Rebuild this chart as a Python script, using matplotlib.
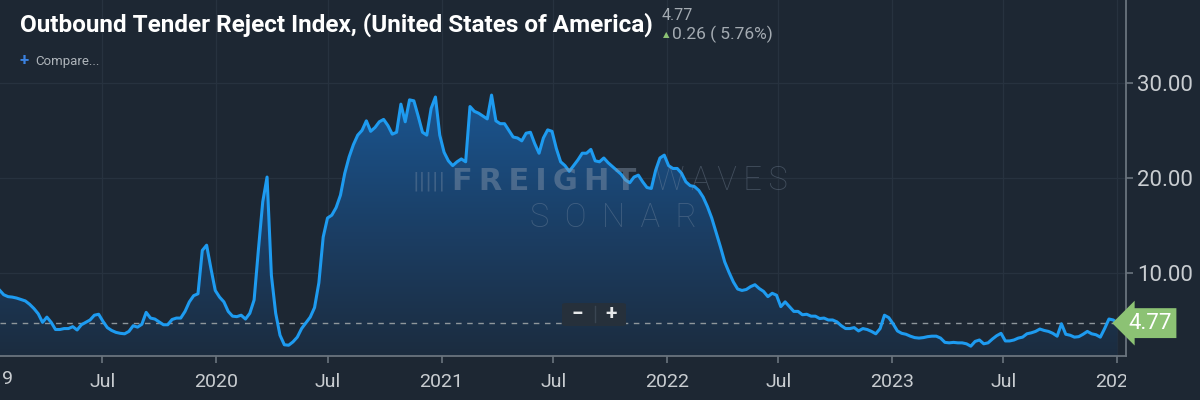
#!/usr/bin/env python3
# -*- coding: utf-8 -*-
"""Outbound Tender Reject Index (USA), SONAR-style dark chart."""

import matplotlib as mpl
mpl.use("Agg")
import matplotlib.dates as mdates
import matplotlib.pyplot as plt
import matplotlib.transforms as mtransforms
import numpy as np
import pandas as pd
from matplotlib import font_manager
from matplotlib.patches import FancyBboxPatch


# =======================
# Data (weekly)
# =======================
START_DATE = "2019-01-15"
OTRI = [
    8.25, 7.75, 7.55, 7.5, 7.4, 7.25, 7.1, 6.75, 6.3, 5.75,
    4.85, 5.4, 4.85, 4.1, 4.1, 4.2, 4.2, 4.4, 4.05, 4.6,
    4.85, 5.1, 5.6, 5.7, 4.95, 4.3, 4.0, 3.8, 3.7, 3.65,
    3.9, 4.5, 4.35, 4.65, 5.9, 5.3, 5.2, 4.9, 4.6, 4.6,
    5.15, 5.3, 5.3, 6.0, 7.0, 7.65, 7.85, 12.4, 12.95, 10.5,
    8.2, 7.5, 7.0, 6.0, 5.5, 5.45, 5.6, 5.2, 5.8, 7.2,
    12.5, 17.5, 20.1, 9.8, 5.8, 3.5, 2.5, 2.45, 2.8, 3.3,
    4.2, 4.8, 5.4, 6.4, 9.0, 13.8, 15.8, 16.1, 16.9, 18.2,
    20.5, 22.2, 23.5, 24.5, 25.0, 26.0, 24.9, 25.3, 25.9, 26.15,
    25.5, 24.6, 24.8, 27.75, 25.9, 28.2, 28.1, 26.5, 24.8, 24.5,
    27.3, 28.5, 24.5, 22.7, 21.8, 21.3, 21.7, 22.0, 21.7, 27.5,
    27.0, 26.8, 26.5, 26.2, 28.7, 26.0, 25.7, 25.7, 25.0, 24.3,
    24.2, 23.9, 24.7, 24.8, 23.6, 22.6, 24.2, 25.05, 24.9, 23.1,
    21.7, 21.3, 20.7, 21.3, 21.9, 22.6, 22.6, 23.0, 21.8, 21.7,
    22.1, 21.6, 21.2, 20.8, 20.4, 19.8, 19.5, 20.1, 20.3, 19.6,
    19.0, 18.9, 20.8, 22.1, 22.4, 21.3, 21.0, 21.0, 20.5, 19.6,
    19.2, 19.1, 18.7, 18.0, 17.0, 15.8, 14.3, 12.8, 11.2, 10.1,
    9.1, 8.35, 8.2, 8.3, 8.6, 8.8, 8.4, 8.1, 7.55, 7.9,
    7.7, 6.5, 7.0, 6.5, 6.0, 6.0, 5.65, 5.7, 5.5, 5.5,
    5.25, 5.3, 5.1, 5.1, 4.9, 4.5, 4.2, 4.2, 4.3, 3.95,
    4.2, 4.1, 3.9, 3.65, 4.2, 5.6, 5.35, 4.7, 3.95, 3.7,
    3.6, 3.4, 3.25, 3.2, 3.25, 3.35, 3.4, 3.4, 3.2, 2.75,
    2.7, 2.75, 2.7, 2.7, 2.6, 2.35, 2.85, 3.0, 2.6, 2.7,
    3.1, 3.45, 3.7, 2.9, 2.9, 3.0, 3.2, 3.3, 3.65, 3.75,
    3.9, 4.15, 4.0, 3.9, 3.7, 3.4, 4.7, 3.6, 3.5, 3.3,
    3.35, 3.6, 3.9, 3.65, 3.55, 3.3, 4.2, 5.2, 5.1, 4.77,
]
LAST_VALUE = 4.77
CHANGE_ABS = 0.26
CHANGE_PCT = 5.76

TITLE = "Outbound Tender Reject Index, (United States of America)"
Y_TICKS = [10, 20, 30]
XLIM = ("2019-01-16", "2024-01-15")
YLIM = (1.32, 38.68)
AX_RIGHT = 0.938

# =======================
# Style
# =======================
BG = "#1d2733"
GRID = "#27323f"
AXIS = "#6a747e"
TICK_TXT = "#c9cdd1"
LINE = "#1e9bf0"
TAG = "#8cc274"


def pick_font(names, default="DejaVu Sans"):
    have = {f.name for f in font_manager.fontManager.ttflist}
    for n in names:
        if n in have:
            return n
    return default


FONT = pick_font(["Roboto", "Liberation Sans"])
TITLE_FONT = pick_font(["Liberation Sans Narrow", "Roboto"])
mpl.rcParams["font.family"] = [FONT, "DejaVu Sans"]
mpl.rcParams["axes.unicode_minus"] = False


def main():
    dates = pd.date_range(START_DATE, periods=len(OTRI), freq="7D")
    vals = np.array(OTRI, dtype=float)

    fig = plt.figure(figsize=(12, 4), dpi=100, facecolor=BG)
    ax = fig.add_axes([0.0, 0.11, AX_RIGHT, 0.89])
    ax.set_facecolor(BG)

    x0, x1 = pd.Timestamp(XLIM[0]), pd.Timestamp(XLIM[1])
    ax.set_xlim(x0, x1)
    ax.set_ylim(*YLIM)

    # gradient area under the line
    poly = ax.fill_between(dates, vals, YLIM[0], color="none", lw=0)
    cmap = mpl.colors.LinearSegmentedColormap.from_list(
        "otri", ["#1c2c3f", "#1b3f66", "#1a5590"])
    grad = np.linspace(0, 1, 256).reshape(-1, 1)
    img = ax.imshow(grad, cmap=cmap, origin="lower", aspect="auto",
                    extent=[mdates.date2num(x0), mdates.date2num(x1),
                            YLIM[0], max(OTRI)],
                    zorder=1)
    img.set_clip_path(poly.get_paths()[0], transform=ax.transData)

    ax.plot(dates, vals, color=LINE, lw=2.2, zorder=3)

    # last value reference line
    ax.axhline(LAST_VALUE, color="#8f979c", lw=1.0, ls=(0, (4, 4)), zorder=2)

    # ticks / grid
    ax.set_yticks(Y_TICKS)
    ax.yaxis.set_major_formatter(mpl.ticker.FormatStrFormatter("%.2f"))
    ax.xaxis.set_major_locator(mdates.MonthLocator(bymonth=[1, 7]))
    ax.xaxis.set_major_formatter(mpl.ticker.FuncFormatter(
        lambda v, _: (mdates.num2date(v).strftime("%Y")
                      if mdates.num2date(v).month == 1 else "Jul")))
    ax.grid(True, color=GRID, lw=0.9, zorder=0)
    ax.set_axisbelow(True)

    ax.yaxis.tick_right()
    for s in ("left", "top"):
        ax.spines[s].set_visible(False)
    for s in ("right", "bottom"):
        ax.spines[s].set_color(AXIS)
        ax.spines[s].set_linewidth(1.3)
    ax.tick_params(axis="x", colors=AXIS, length=5, width=1.2, pad=7,
                   labelcolor=TICK_TXT, labelsize=14)
    ax.tick_params(axis="y", colors=AXIS, length=5, width=1.2, pad=3,
                   labelcolor=TICK_TXT, labelsize=16)

    # x labels are cut at the plot's right edge, as in the app
    clip = mtransforms.TransformedBbox(
        mtransforms.Bbox([[0, 0], [AX_RIGHT, 1]]), fig.transFigure)
    fig.canvas.draw()
    for lab in ax.get_xticklabels():
        lab.set_clip_on(True)
        lab.set_clip_box(clip)

    # cut-off year label on the far left
    tr = mtransforms.blended_transform_factory(ax.transData, ax.transAxes)
    ax.text(mdates.date2num(pd.Timestamp("2019-01-01")), -0.064, "2019",
            transform=tr, ha="center", va="center", fontsize=14,
            color=TICK_TXT, clip_on=False)

    # last value tag
    trf = mtransforms.blended_transform_factory(fig.transFigure, ax.transData)
    ax.text(0.9585, LAST_VALUE, f"{LAST_VALUE:.2f}", transform=trf,
            ha="center", va="center", fontsize=16, color="white",
            clip_on=False, zorder=6,
            bbox=dict(boxstyle="larrow,pad=0.2", fc=TAG, ec="none"))

    # zoom control
    fig.patches.append(FancyBboxPatch(
        (562 / 1200, 1 - 326 / 400), 64 / 1200, 23 / 400,
        boxstyle="round,pad=0,rounding_size=0.004",
        transform=fig.transFigure, fc="#26303b", ec="none", zorder=5))
    fig.text(577 / 1200, 1 - 314 / 400, "\u2212", color="#e6e8ea",
             fontsize=15, fontweight="bold", ha="center", va="center",
             zorder=6)
    fig.text(611 / 1200, 1 - 314 / 400, "+", color="#e6e8ea",
             fontsize=15, fontweight="bold", ha="center", va="center",
             zorder=6)
    fig.add_artist(plt.Line2D([595 / 1200, 595 / 1200],
                              [1 - 322 / 400, 1 - 306 / 400],
                              color="#3a4552", lw=1, zorder=6))

    # watermark
    wm = "#8797ab"
    fig.text(452 / 1200, 1 - 181 / 400,
             "F\u2009R\u2009E\u2009I\u2009G\u2009H\u2009T",
             color=wm, alpha=0.45, fontsize=22, fontweight="bold",
             ha="left", va="center", family=["DejaVu Sans"])
    fig.text(655 / 1200, 1 - 181 / 400, "W\u2009A\u2009V\u2009E\u2009S",
             color=wm, alpha=0.35, fontsize=23.5, fontweight="light",
             ha="left", va="center", family=[FONT, "DejaVu Sans"])
    fig.text(613 / 1200, 1 - 218 / 400, "S  O  N  A  R", color=wm,
             alpha=0.35, fontsize=23.5, fontweight="light", ha="center",
             va="center")
    fig.text(429 / 1200, 1 - 181 / 400, "|||||", color=wm,
             alpha=0.35, fontsize=14, ha="center", va="center",
             family=["DejaVu Sans"])

    # header
    fig.text(20 / 1200, 1 - 25 / 400, TITLE, color="white", fontsize=17.5,
             fontweight="bold", ha="left", va="center",
             family=[TITLE_FONT, "DejaVu Sans"])
    fig.text(662 / 1200, 1 - 15 / 400, f"{LAST_VALUE:.2f}", color="#a4abb2",
             fontsize=11.5, ha="left", va="center")
    fig.text(666 / 1200, 1 - 35 / 400, "\u25b2", color="#8cc274",
             fontsize=6, ha="center", va="center", family=["DejaVu Sans"])
    fig.text(672 / 1200, 1 - 34 / 400,
             f"{CHANGE_ABS:.2f} ( {CHANGE_PCT:.2f}%)", color="#a4abb2",
             fontsize=12.5, ha="left", va="center")
    fig.text(24 / 1200, 1 - 61 / 400, "+", color="#3b82e0", fontsize=12,
             fontweight="bold", ha="center", va="center")
    fig.text(35 / 1200, 1 - 62 / 400, "Compare...", color="#aeb4ba",
             fontsize=9.5, ha="left", va="center")

    fig.savefig("out.png", dpi=100, facecolor=BG)


if __name__ == "__main__":
    main()
